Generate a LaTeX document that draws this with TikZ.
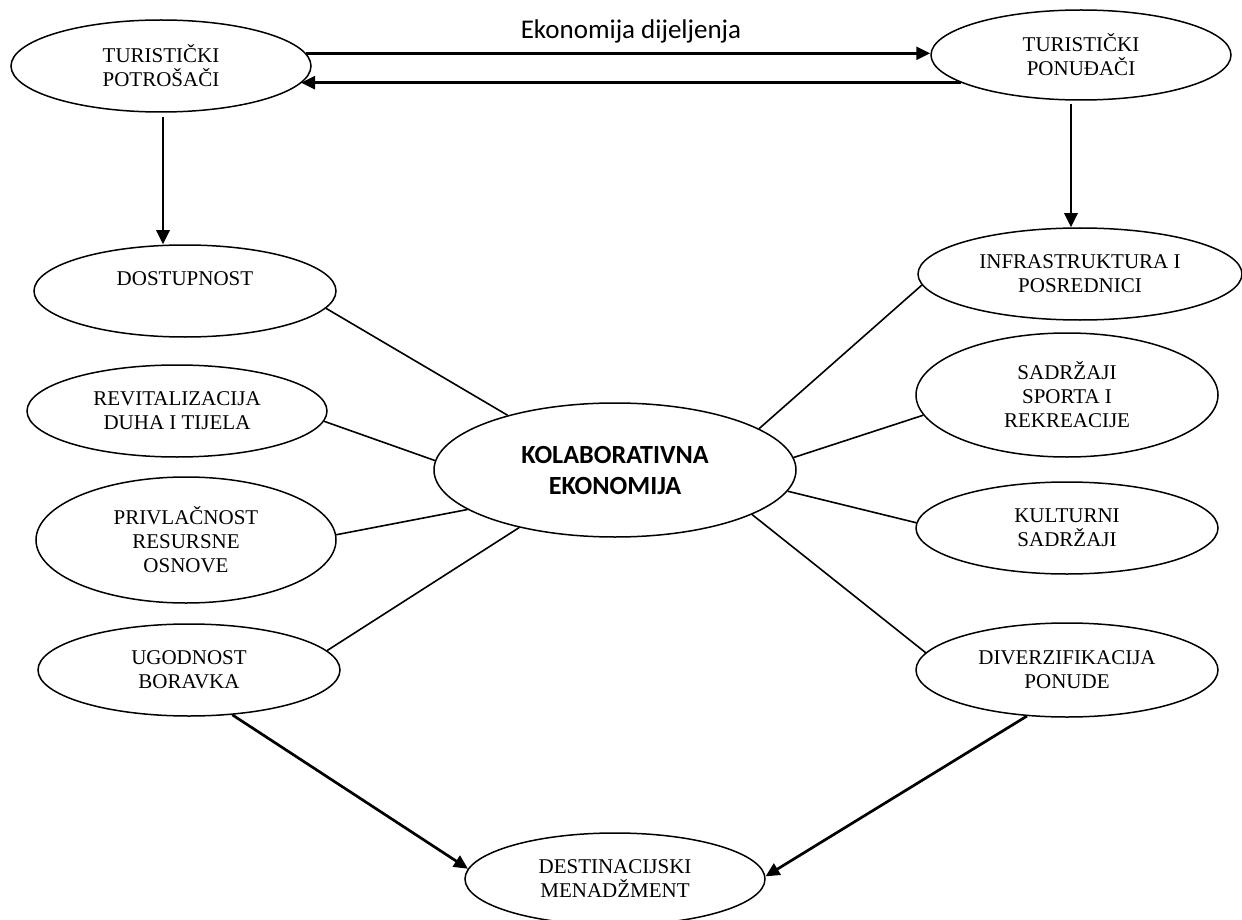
\documentclass[tikz,border=0pt]{standalone}
\usepackage{fontspec}
\setmainfont{Liberation Serif}
\newfontfamily\calibri{Carlito}
\usetikzlibrary{shapes.geometric,arrows.meta}
\tikzset{
  oval/.style={draw, ellipse, line width=1.5pt, inner sep=0pt, align=center,
    font=\fontsize{21}{24}\selectfont},
  link/.style={line width=1.6pt},
  arr/.style={line width=2.7pt, -{Triangle[length=14pt,width=13pt]}},
  lbl/.style={font=\calibri\fontsize{27}{30}\selectfont, inner sep=0pt}
}
\begin{document}
\begin{tikzpicture}[x=1pt,y=-1pt]
\useasboundingbox[fill=white] (0,0) rectangle (1242,920);
% nodes
\node[oval, minimum width=300pt, minimum height=92pt] (pot) at (161,66) {TURISTIČKI\\POTROŠAČI};
\node[oval, minimum width=300pt, minimum height=90pt] (pon) at (1081,55) {TURISTIČKI\\PONUĐAČI};
\node[oval, minimum width=302pt, minimum height=92pt] (dost) at (185,291) {DOSTUPNOST\\\mbox{}};
\node[oval, minimum width=300pt, minimum height=92pt] (rev) at (177,411) {REVITALIZACIJA\\DUHA I TIJELA};
\node[oval, minimum width=300pt, minimum height=126pt] (priv) at (186,540) {PRIVLAČNOST\\RESURSNE\\OSNOVE};
\node[oval, minimum width=302pt, minimum height=92pt] (ugod) at (189,670) {UGODNOST\\BORAVKA};
\node[oval, minimum width=362pt, minimum height=134pt, font=\calibri\bfseries\fontsize{26.2}{31}\selectfont] (kol) at (615,470) {KOLABORATIVNA\\EKONOMIJA};
\node[oval, minimum width=324pt, minimum height=92pt] (infra) at (1080,274) {INFRASTRUKTURA I\\POSREDNICI};
\node[oval, minimum width=302pt, minimum height=124pt] (sad) at (1067,395) {SADRŽAJI\\SPORTA I\\REKREACIJE};
\node[oval, minimum width=302pt, minimum height=92pt] (kult) at (1067,528) {KULTURNI\\SADRŽAJI};
\node[oval, minimum width=302pt, minimum height=94pt] (div) at (1067,670) {DIVERZIFIKACIJA\\PONUDE};
\node[oval, minimum width=300pt, minimum height=92pt] (dest) at (615,879) {DESTINACIJSKI\\MENADŽMENT};
\node[lbl] (eko) at (631,31) {Ekonomija dijeljenja};
% arrows top
\draw[arr] (pot.5.3) -- (pot.5.3 -| pon.west);
\draw[arr] (pon.193.3) -- (pon.193.3 -| pot.-7.4);
\draw[arr, shorten <=4pt] ([xshift=2pt]pot.south) -- ([xshift=2pt]pot.south |- dost.north);
\draw[arr, shorten <=3pt] ([xshift=-10pt]pon.south) -- ([xshift=-10pt]pon.south |- infra.north);
% links to centre
\draw[link] (dost.-7.3) -- (kol.153.4);
\draw[link] (rev.-4.3) -- (kol.177.7);
\draw[link] (priv.2) -- (kol.195.4);
\draw[link] (ugod.8.7) -- (kol.211);
\draw[link] (infra.184) -- (kol.16.5);
\draw[link] (sad.188.9) -- (kol.4.2);
\draw[link] (kult.178) -- (kol.-7.7);
\draw[link] (div.173.4) -- (kol.-18.6);
% arrows bottom
\draw[arr] (ugod.-46.3) -- (dest.176.6);
\draw[arr] (div.229.7) -- (dest.1.5);
\end{tikzpicture}
\end{document}
